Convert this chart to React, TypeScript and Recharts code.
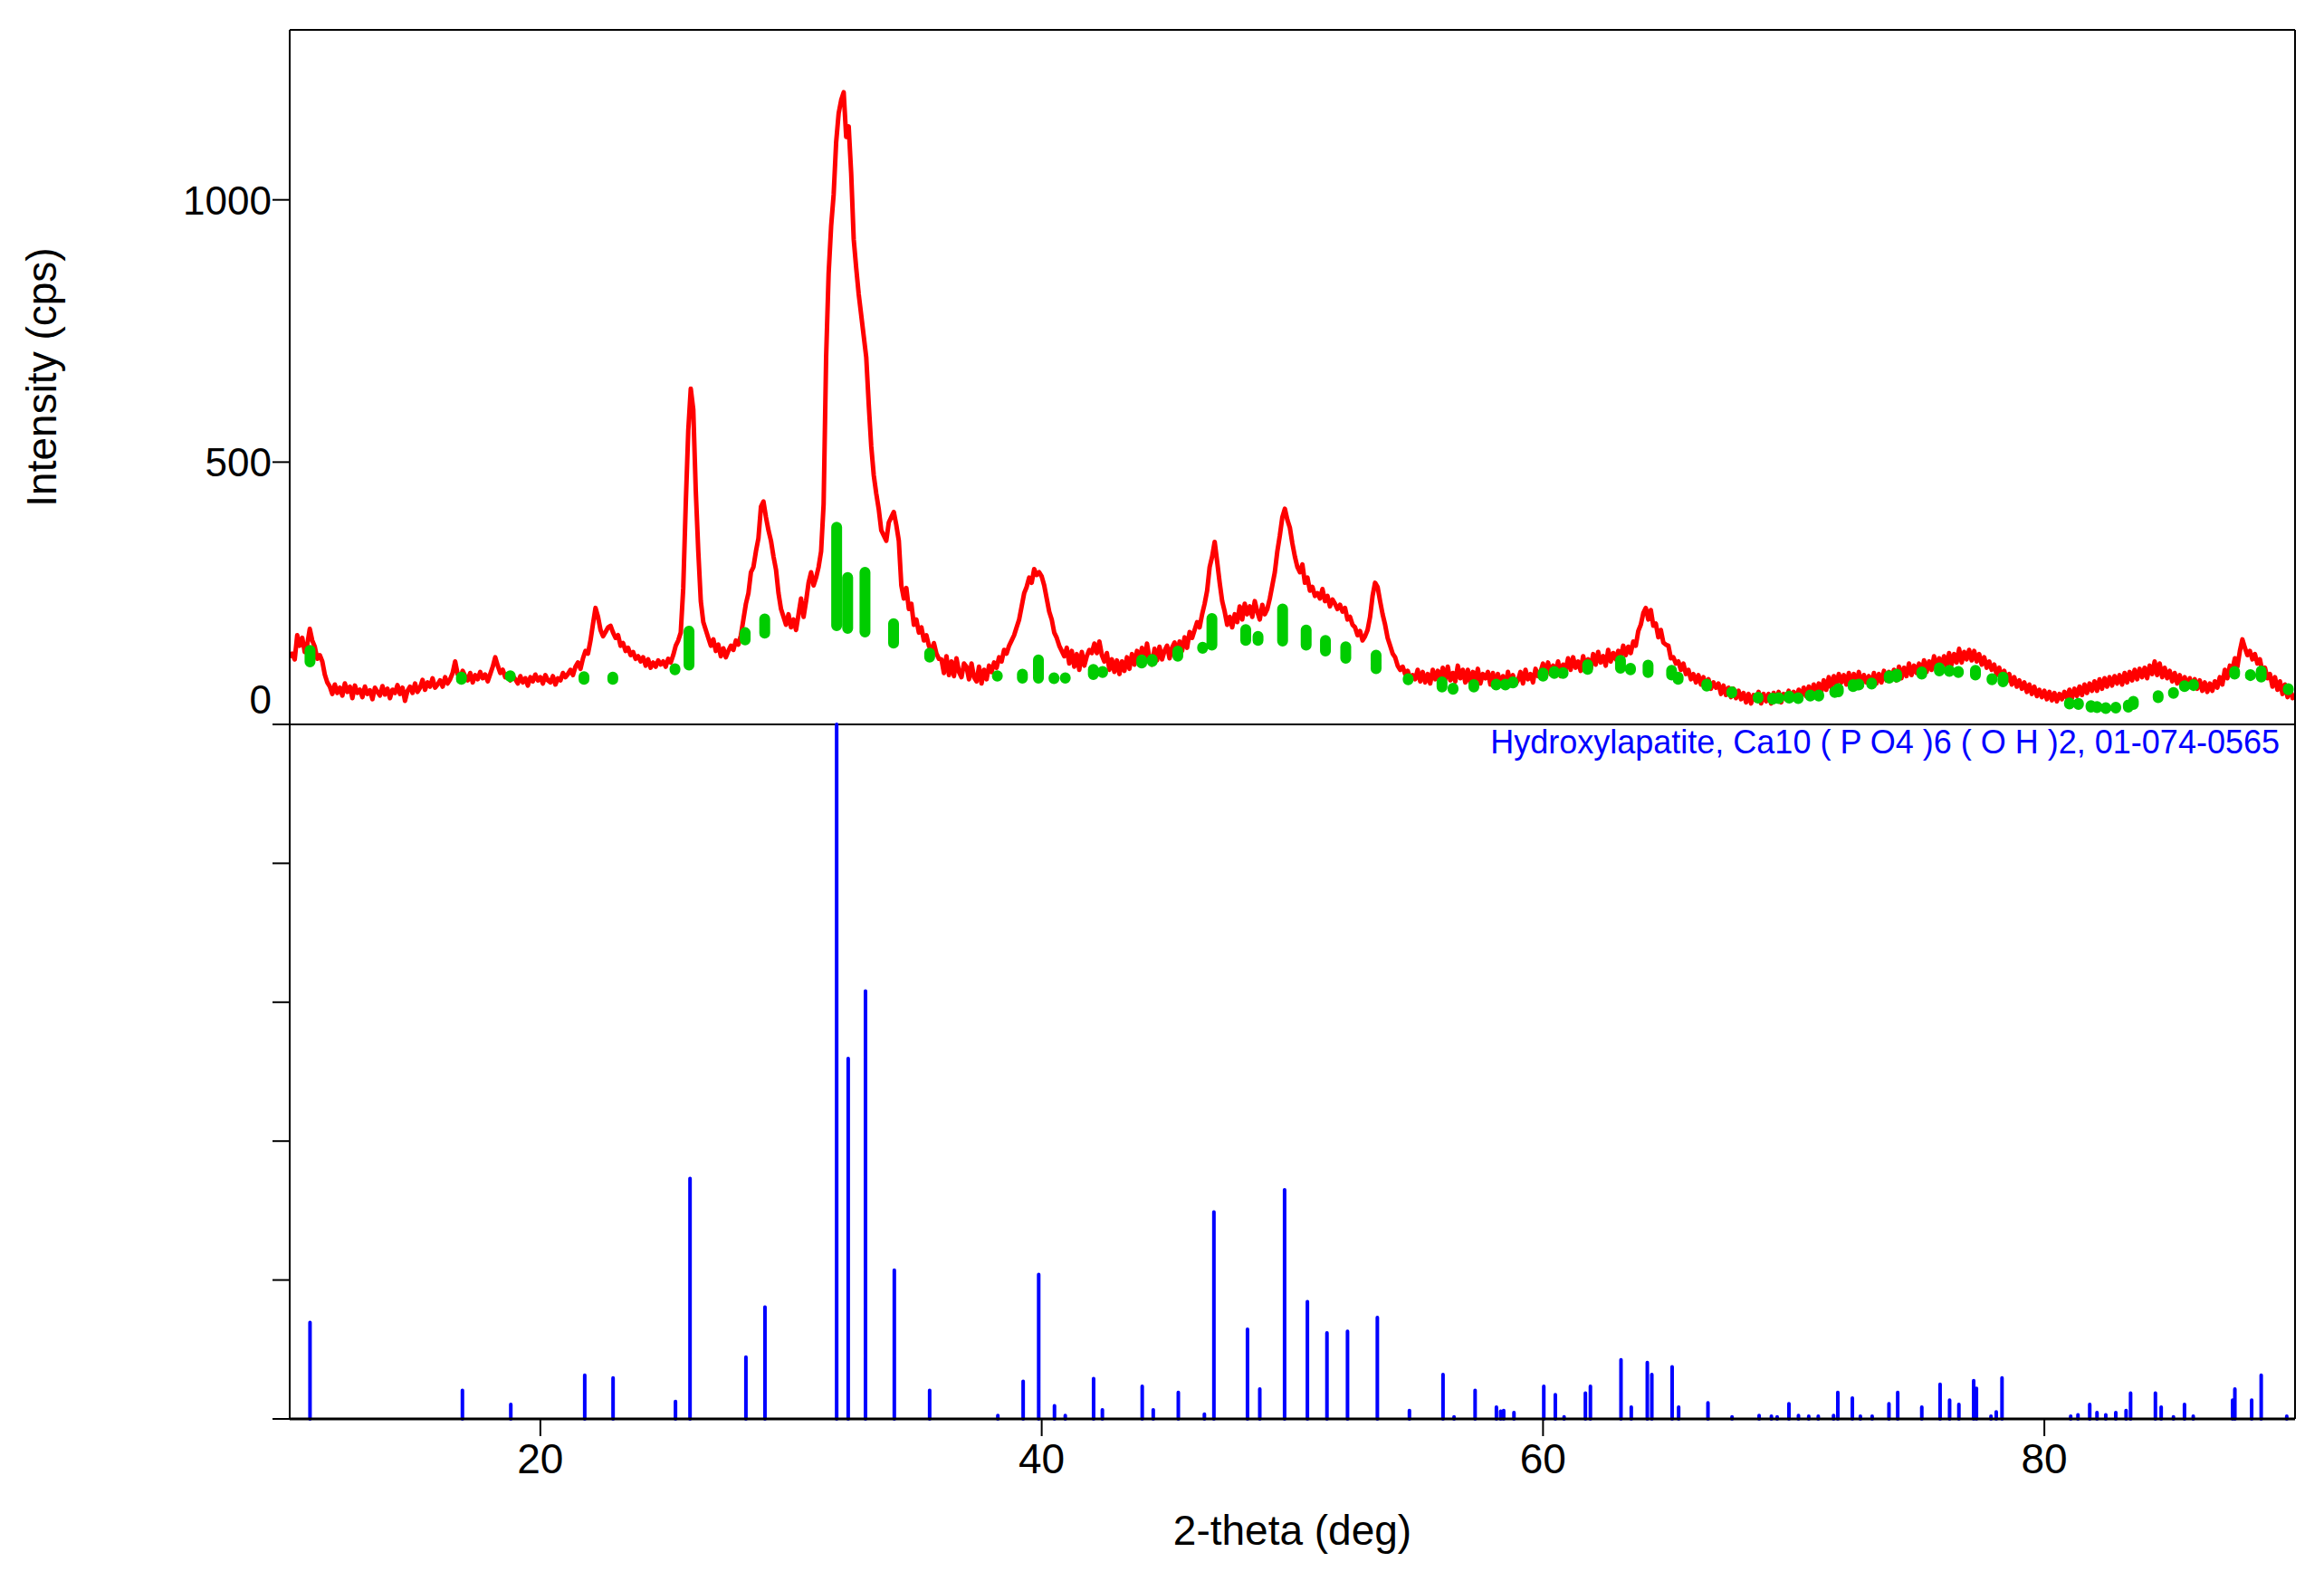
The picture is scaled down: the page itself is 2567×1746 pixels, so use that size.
import React from "react";
import { ComposedChart, Line, XAxis, YAxis, Label } from "recharts";

const FONT = '"Liberation Sans", Arial, Helvetica, sans-serif';

// axes
const thetaDomain = [10, 90];
const thetaTicks = [20, 40, 60, 80];
const intensityDomain = [0, 1324];
const intensityTicks = [0, 500, 1000];
const refDomain = [0, 100];
const refTicks = [0, 20, 40, 60, 80, 100];

const phaseLabel = "Hydroxylapatite, Ca10 ( P O4 )6 ( O H )2, 01-074-0565";

// measured scan, 10.0 .. 90.0 deg every 0.1 deg (cps)
const scanStart = 10;
const scanStep = 0.1;
const scanCps = [
  128, 135, 124, 170, 150, 165, 138, 152, 182, 160,
  148, 125, 132, 120, 95, 80, 72, 58, 76, 60,
  70, 55, 78, 62, 72, 50, 74, 60, 66, 52,
  72, 58, 65, 48, 70, 62, 55, 73, 57, 68,
  50, 66, 60, 75, 58, 70, 45, 64, 72, 60,
  78, 62, 70, 85, 66, 80, 72, 88, 70, 76,
  84, 72, 90, 78, 86, 98, 120, 96, 88, 102,
  92, 84, 98, 80, 94, 86, 100, 88, 95, 82,
  96, 110, 128, 112, 98, 104, 90, 96, 84, 92,
  86, 78, 92, 80, 88, 74, 90, 82, 95, 84,
  90, 78, 94, 84, 80, 92, 76, 88, 84, 98,
  90, 96, 104, 94, 110, 118, 106, 126, 140, 135,
  160, 192, 222, 205, 180, 168, 176, 185, 188, 175,
  165, 170, 150, 155, 140, 146, 132, 138, 125, 130,
  120, 128, 112, 124, 108, 118, 110, 122, 114, 120,
  110, 125, 118, 132, 150, 160, 175, 260, 420, 560,
  640, 600, 445, 330, 235, 195, 180, 165, 150, 162,
  140, 152, 130, 145, 128, 140, 150, 142, 160, 152,
  170, 200, 230, 250, 290, 300, 330, 355, 415, 425,
  395, 370, 350, 320, 295, 250, 220, 205, 190, 210,
  185, 200, 180, 210, 240, 205, 235, 270, 290, 265,
  280, 300, 330, 420, 700, 860, 950, 1010, 1110, 1165,
  1190, 1205, 1120, 1140, 1050, 925, 870, 820, 780, 740,
  700, 610, 530, 475, 440, 410, 370, 360, 350, 385,
  395, 405, 380, 350, 265, 240, 260, 220, 230, 190,
  200, 175, 185, 160, 170, 150, 140, 155, 135, 125,
  124, 98, 130, 94, 120, 92, 126, 100, 90, 116,
  110, 86, 116, 90, 82, 110, 78, 104, 86, 112,
  100, 118, 108, 128, 120, 142, 135, 150, 160, 170,
  185, 200, 225, 250, 262, 280, 270, 296, 285, 290,
  282, 265, 240, 215, 200, 175, 165, 150, 140, 130,
  146, 116, 140, 110, 134, 104, 138, 112, 130, 142,
  136, 154, 136, 158, 132, 120, 136, 104, 124, 100,
  122, 96, 120, 102, 128, 106, 134, 114, 140, 120,
  146, 118, 154, 126, 114, 144, 122, 148, 124, 140,
  150, 126, 146, 156, 132, 158, 140, 166, 146, 176,
  165, 180, 195, 185, 210, 230, 255, 300, 320, 348,
  310, 270, 235, 215, 190, 205, 185, 210, 195, 225,
  200, 230, 210, 225, 205, 235, 215, 200, 228, 210,
  220, 240, 265, 290, 330, 360, 395, 411, 390, 375,
  345, 320, 300, 290, 305, 270, 280, 255, 262, 245,
  250, 240, 258, 235, 245, 225, 238, 230, 220, 228,
  215, 222, 200, 205, 190, 185, 170, 178, 160, 168,
  180, 205, 245, 270, 262, 235, 210, 190, 165, 150,
  135, 128, 112, 104, 110, 96, 102, 88, 94, 86,
  104, 82, 100, 80, 96, 78, 104, 86, 102, 84,
  108, 86, 110, 84, 98, 82, 112, 88, 104, 80,
  104, 80, 100, 84, 106, 78, 96, 88, 100, 76,
  98, 74, 96, 78, 92, 72, 100, 80, 94, 76,
  84, 100, 78, 104, 86, 96, 80, 106, 92, 100,
  116, 94, 118, 96, 112, 100, 120, 92, 114, 104,
  126, 104, 128, 108, 120, 102, 130, 110, 124, 106,
  134, 114, 138, 118, 130, 112, 142, 120, 136, 124,
  140, 128, 150, 132, 148, 136, 158, 150, 178, 190,
  212, 222, 200, 218, 188, 192, 166, 180, 156, 152,
  150, 126, 128, 116, 120, 104, 116, 96, 104, 86,
  96, 80, 94, 76, 90, 72, 86, 68, 80, 70,
  78, 58, 74, 56, 70, 52, 68, 50, 64, 48,
  60, 42, 58, 40, 56, 46, 62, 40, 58, 44,
  58, 40, 60, 44, 62, 42, 58, 48, 64, 46,
  62, 48, 66, 52, 70, 54, 72, 58, 76, 60,
  78, 62, 84, 66, 90, 70, 92, 76, 96, 80,
  94, 76, 98, 74, 96, 78, 100, 72, 94, 80,
  92, 74, 98, 78, 96, 80, 102, 84, 100, 86,
  104, 84, 110, 88, 108, 92, 116, 94, 112, 98,
  116, 96, 122, 100, 120, 104, 130, 106, 126, 112,
  130, 110, 136, 114, 134, 118, 144, 118, 138, 124,
  142, 122, 140, 120, 134, 114, 128, 108, 120, 104,
  114, 94, 108, 88, 102, 82, 96, 76, 90, 72,
  84, 68, 80, 62, 76, 58, 72, 54, 66, 52,
  64, 48, 62, 46, 60, 44, 58, 48, 62, 50,
  66, 50, 68, 54, 72, 56, 76, 60, 78, 64,
  82, 64, 86, 68, 88, 72, 90, 74, 92, 78,
  94, 76, 98, 80, 100, 84, 104, 86, 106, 90,
  108, 88, 112, 96, 120, 94, 116, 90, 108, 88,
  102, 82, 98, 78, 94, 74, 90, 70, 88, 72,
  86, 68, 84, 64, 80, 62, 78, 64, 82, 70,
  90, 76, 104, 88, 112, 104, 126, 110, 140, 162,
  146, 132, 140, 124, 134, 116, 124, 100, 108, 88,
  96, 72, 90, 66, 82, 58, 76, 52, 70, 50,
  58,
];

// peak markers drawn over the scan: [2-theta, low cps, high cps]
const fitPeaks: [number, number, number][] = [
  [10.81, 119, 141], [16.85, 86, 90], [18.8, 91, 93], [21.74, 86, 91],
  [22.89, 86, 90], [25.37, 104, 106], [25.93, 113, 178], [28.17, 161, 175],
  [28.95, 174, 201], [31.82, 188, 376], [32.26, 183, 280], [32.95, 176, 290],
  [34.09, 155, 192], [35.53, 128, 136], [38.23, 92, 93], [39.23, 88, 96],
  [39.87, 88, 123], [40.49, 87, 89], [40.94, 88, 89], [42.06, 95, 105],
  [42.43, 99, 101], [43.99, 117, 123], [44.41, 120, 124], [45.43, 130, 140],
  [46.42, 145, 147], [46.79, 151, 202], [48.14, 160, 181], [48.63, 160, 168],
  [49.61, 159, 220], [50.55, 151, 180], [51.32, 140, 160], [52.13, 126, 148],
  [53.34, 106, 132], [54.62, 85, 87], [55.97, 71, 81], [56.41, 67, 69],
  [57.24, 71, 76], [58.13, 75, 77], [58.5, 75, 77], [58.8, 79, 81],
  [60.0, 92, 98], [60.45, 97, 101], [60.8, 97, 99], [61.78, 105, 114],
  [63.09, 107, 122], [63.49, 104, 107], [64.19, 99, 113], [65.13, 94, 103],
  [65.39, 86, 90], [66.53, 73, 77], [67.53, 60, 62], [68.58, 50, 52],
  [69.16, 48, 50], [69.4, 49, 51], [69.82, 50, 54], [70.18, 49, 51],
  [70.66, 54, 56], [71.0, 54, 56], [71.64, 61, 63], [71.78, 62, 68],
  [72.37, 72, 76], [72.6, 75, 77], [73.11, 77, 79], [73.81, 88, 93],
  [74.11, 90, 96], [75.11, 96, 100], [75.81, 102, 108], [76.21, 101, 103],
  [76.57, 99, 101], [77.25, 94, 103], [77.91, 85, 87], [78.35, 81, 90],
  [81.0, 39, 41], [81.36, 38, 40], [81.86, 33, 36], [82.1, 32, 34],
  [82.45, 30, 32], [82.85, 31, 33], [83.35, 33, 37], [83.55, 38, 44],
  [84.54, 51, 55], [85.15, 59, 61], [85.59, 72, 74], [85.95, 74, 76],
  [87.59, 96, 101], [88.22, 93, 95], [88.65, 90, 102], [89.73, 66, 68],
];

// reference card sticks: [2-theta, relative intensity %]
const refPeaks: [number, number][] = [
  [10.81, 13.9], [16.89, 4.1], [18.82, 2.1], [21.77, 6.3], [22.9, 5.9],
  [25.39, 2.5], [25.97, 34.6], [28.2, 8.9], [28.96, 16.1], [31.82, 100],
  [32.28, 51.9], [32.97, 61.6], [34.12, 21.4], [35.53, 4.1], [38.25, 0.5],
  [39.26, 5.4], [39.88, 20.8], [40.51, 1.9], [40.94, 0.5], [42.07, 5.8],
  [42.42, 1.3], [44.01, 4.7], [44.45, 1.3], [45.45, 3.8], [46.49, 0.7],
  [46.87, 29.8], [48.21, 12.9], [48.7, 4.3], [49.69, 33.0], [50.6, 16.9],
  [51.38, 12.4], [52.2, 12.6], [53.39, 14.6], [54.67, 1.2], [56.01, 6.4],
  [56.45, 0.3], [57.29, 4.1], [58.14, 1.7], [58.31, 1.1], [58.43, 1.2],
  [58.84, 0.9], [60.03, 4.7], [60.49, 3.5], [60.84, 0.3], [61.69, 3.7],
  [61.89, 4.7], [63.11, 8.5], [63.52, 1.7], [64.16, 8.1], [64.34, 6.4],
  [65.15, 7.5], [65.41, 1.7], [66.58, 2.3], [67.54, 0.3], [68.62, 0.5],
  [69.11, 0.4], [69.34, 0.3], [69.81, 2.2], [70.19, 0.5], [70.6, 0.4],
  [70.98, 0.4], [71.59, 0.5], [71.76, 3.8], [72.34, 3.0], [72.66, 0.4],
  [73.13, 0.4], [73.8, 2.2], [74.15, 3.8], [75.11, 1.7], [75.84, 5.0],
  [76.22, 2.7], [76.59, 2.1], [77.18, 5.5], [77.29, 4.4], [77.87, 0.4],
  [78.08, 1.0], [78.31, 5.9], [81.05, 0.4], [81.34, 0.6], [81.81, 2.1],
  [82.1, 0.9], [82.45, 0.6], [82.85, 0.9], [83.26, 1.2], [83.44, 3.7],
  [84.43, 3.7], [84.66, 1.7], [85.15, 0.3], [85.59, 2.1], [85.94, 0.4],
  [87.51, 2.7], [87.6, 4.3], [88.27, 2.7], [88.65, 6.3], [89.67, 0.4],
];

const scanData = scanCps.map((v, i) => ({ x: +(scanStart + i * scanStep).toFixed(2), cps: v }));
const fitData = fitPeaks.flatMap(([x, lo, hi]) => [
  { x, fit: lo },
  { x, fit: hi },
  { x, fit: null },
]);
const refData = refPeaks.flatMap(([x, h]) => [
  { x, rel: 0 },
  { x, rel: h },
  { x, rel: null },
]);

const axisStroke = { stroke: "#000", strokeWidth: 2 };

const IntensityTick = ({ x, y, payload }: any) => (
  <text
    x={x}
    y={payload.value === 0 ? y - 28 : y}
    dy="0.36em"
    textAnchor="end"
    fontSize={44}
    fontFamily={FONT}
    fill="#000"
  >
    {payload.value}
  </text>
);

const NoLabel = () => <g />;

export default function App() {
  return (
    <div style={{ position: "absolute", left: 0, top: 0, width: 2567, height: 1746, background: "#fff", fontFamily: FONT }}>
      <div style={{ position: "absolute", left: 0, top: 0 }}>
        <ComposedChart width={2567} height={802} margin={{ top: 32, right: 31, bottom: 1, left: 0 }} data={scanData}>
          <XAxis dataKey="x" type="number" domain={thetaDomain} allowDataOverflow height={1} tick={false} tickLine={false} axisLine={axisStroke} />
          <XAxis xAxisId="top" orientation="top" type="number" domain={thetaDomain} height={1} tick={false} tickLine={false} axisLine={axisStroke} />
          <YAxis
            type="number"
            domain={intensityDomain}
            allowDataOverflow
            ticks={intensityTicks}
            interval={0}
            width={320}
            tickSize={19}
            tickMargin={1}
            tick={<IntensityTick />}
            tickLine={axisStroke}
            axisLine={axisStroke}
          >
            <Label
              content={({ viewBox }: any) => {
                const cy = viewBox.y + viewBox.height / 2;
                return (
                  <text x={62} y={cy} transform={`rotate(-90 62 ${cy})`} textAnchor="middle" fontSize={46} fontFamily={FONT} fill="#000">
                    Intensity (cps)
                  </text>
                );
              }}
            />
          </YAxis>
          <YAxis yAxisId="right" orientation="right" type="number" domain={[0, 1]} width={1} tick={false} tickLine={false} axisLine={axisStroke} />
          <Line type="linear" dataKey="cps" stroke="#ff0000" strokeWidth={5} strokeLinejoin="round" dot={false} isAnimationActive={false} />
          <Line
            type="linear"
            data={fitData}
            dataKey="fit"
            stroke="#00cc00"
            strokeWidth={12}
            strokeLinecap="round"
            dot={false}
            connectNulls={false}
            isAnimationActive={false}
          />
        </ComposedChart>
      </div>

      <div style={{ position: "absolute", left: 0, top: 790 }}>
        <ComposedChart width={2567} height={927} margin={{ top: 10, right: 31, bottom: 0, left: 0 }} data={refData}>
          <XAxis
            dataKey="x"
            type="number"
            domain={thetaDomain}
            allowDataOverflow
            ticks={thetaTicks}
            interval={0}
            height={150}
            tickSize={19}
            tickMargin={8}
            tick={{ fontSize: 46, fill: "#000", fontFamily: FONT }}
            tickLine={axisStroke}
            axisLine={{ stroke: "#000", strokeWidth: 3 }}
          >
            <Label
              content={({ viewBox }: any) => (
                <text x={viewBox.x + viewBox.width / 2} y={viewBox.y + 139} textAnchor="middle" fontSize={46} fontFamily={FONT} fill="#000">
                  2-theta (deg)
                </text>
              )}
            />
          </XAxis>
          <YAxis
            type="number"
            domain={refDomain}
            ticks={refTicks}
            interval={0}
            width={320}
            tickSize={19}
            tick={<NoLabel />}
            tickLine={axisStroke}
            axisLine={axisStroke}
          />
          <YAxis yAxisId="right" orientation="right" type="number" domain={[0, 1]} width={1} tick={false} tickLine={false} axisLine={axisStroke} />
          <Line type="linear" dataKey="rel" stroke="#0000ff" strokeWidth={4} strokeLinecap="round" dot={false} connectNulls={false} isAnimationActive={false} />
        </ComposedChart>
      </div>

      <div
        style={{
          position: "absolute",
          top: 802,
          right: 49,
          fontSize: 36,
          lineHeight: "36px",
          color: "#0000ff",
          whiteSpace: "nowrap",
          fontFamily: FONT,
        }}
      >
        {phaseLabel}
      </div>
    </div>
  );
}
